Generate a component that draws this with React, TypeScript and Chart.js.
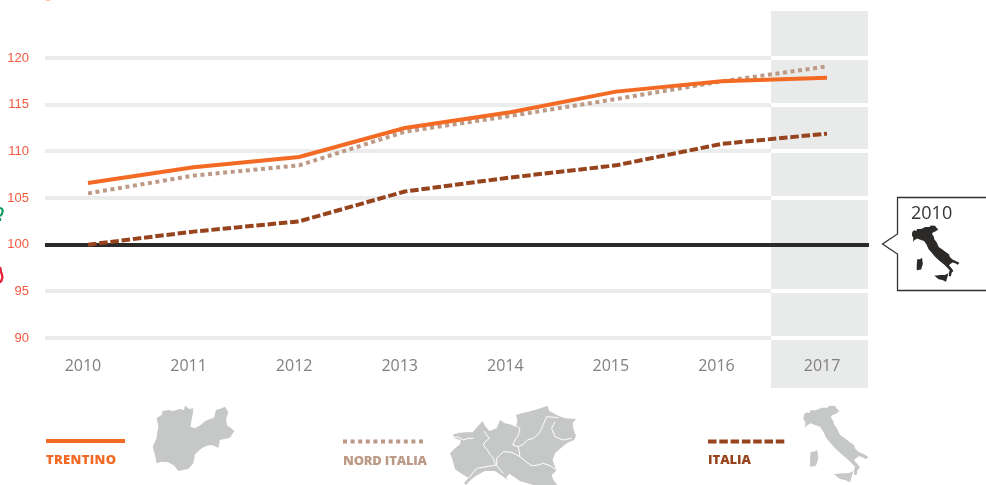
import React, { useEffect, useRef } from "react";
import { Chart, registerables } from "chart.js";

Chart.register(...registerables);

const years = [2010, 2011, 2012, 2013, 2014, 2015, 2016, 2017];
const trentino = [106.6, 108.3, 109.4, 112.5, 114.2, 116.4, 117.5, 117.9];
const nordItalia = [105.5, 107.4, 108.5, 112.1, 113.8, 115.6, 117.5, 119.1];
const italia = [100, 101.4, 102.5, 105.7, 107.2, 108.5, 110.8, 111.9];
const yTicks = [90, 95, 100, 105, 110, 115, 120];

const ORANGE = "#f26a24";
const TAUPE = "#bd9a86";
const BROWN = "#97441e";
const DARK = "#2b2a29";
const GRID = "#ebedec";
const BAND = "#e9ebea";
const MAP = "#c6c8c7";

// Decorative map outlines, in zoomed (3x) local units
const shapeTrentino = "50,70 58,64 65,60 68,48 85,45 100,48 118,42 132,45 135,32 148,42 160,40 158,60 154,78 152,95 165,100 185,88 195,78 210,72 222,68 228,45 245,40 255,35 265,52 258,72 262,92 272,98 283,108 270,128 240,135 235,158 215,150 200,152 185,160 165,178 160,205 145,222 115,228 103,212 85,202 65,200 50,205 45,180 38,155 50,130 52,110 55,95";
const shapeNord = "40,118 55,114 75,112 98,112 112,95 128,78 135,92 148,108 170,100 180,75 195,85 210,88 228,95 232,78 228,60 245,55 265,50 295,42 322,32 328,48 355,62 375,70 408,72 398,85 400,100 408,122 402,135 380,145 362,160 345,175 338,195 345,215 348,228 335,240 340,255 352,270 280,270 240,258 208,236 198,248 205,258 190,245 165,228 135,228 108,242 92,255 78,270 72,265 85,248 62,235 45,222 38,195 30,175 45,160 60,148 62,135 42,130";
const bordersNord = [
  "42,128 55,126 70,135 85,130 100,130",
  "132,108 140,120 148,130 135,140 130,150 142,165 150,178 160,190 165,205 170,212",
  "228,92 240,100 235,120 225,135 218,150 235,155 250,148 262,135 280,130 295,118 305,100 310,88 320,65 355,68",
  "345,80 335,100 345,125 370,135 395,130",
  "170,190 190,170 215,172 240,185 258,200 275,212 295,210 310,205 330,212 345,222",
  "235,155 240,185",
  "85,250 100,232 110,220 140,215 170,210 170,190",
  "170,212 180,224 190,235",
];
const shapeItalyMain = "42,58 50,52 58,55 62,46 78,46 95,38 112,38 118,32 135,33 140,40 148,48 138,56 128,60 122,66 130,78 132,88 142,102 150,120 165,130 180,142 192,150 195,160 205,170 222,178 235,185 228,193 220,188 208,183 200,188 192,195 205,210 210,218 203,225 200,240 192,240 192,225 195,215 185,205 172,192 155,178 135,160 118,140 108,128 100,110 90,95 75,90 62,85 50,92 45,100 46,82 40,72";
const shapeSardinia = "62,170 72,170 82,165 85,190 78,212 60,215 60,195";
const shapeSicily = "132,238 155,235 175,235 190,228 180,262 165,255 150,252";

const BAND_START = 2016.468;
const BAND_FLOOR = 84.64;

const bandPlugin = {
  id: "band",
  beforeDatasetsDraw(chart: any) {
    const { ctx, chartArea, scales } = chart;
    const xs = scales.x;
    const ys = scales.y;
    const left = Math.round(xs.getPixelForValue(BAND_START));
    const right = chartArea.right;
    ctx.save();
    ctx.fillStyle = BAND;
    ctx.fillRect(left, chartArea.top, right - left, ys.getPixelForValue(BAND_FLOOR) - chartArea.top);
    yTicks.forEach((v) => {
      const y = Math.round(ys.getPixelForValue(v));
      ctx.fillStyle = v === 100 ? DARK : "#ffffff";
      ctx.fillRect(left, y - 2, right - left + (v === 100 ? 1 : 0), 4);
    });
    ctx.restore();
  },
};

export default function App() {
  const ref = useRef<HTMLCanvasElement>(null);
  useEffect(() => {
    const toPoints = (arr: number[]) => arr.map((y, i) => ({ x: years[i], y }));
    const chart = new Chart(ref.current as HTMLCanvasElement, {
      type: "line",
      data: {
        datasets: [
          { label: "TRENTINO", data: toPoints(trentino), borderColor: ORANGE, borderWidth: 4, pointRadius: 0, tension: 0 },
          { label: "NORD ITALIA", data: toPoints(nordItalia), borderColor: TAUPE, borderWidth: 4, borderDash: [4, 3.6], pointRadius: 0, tension: 0 },
          { label: "ITALIA", data: toPoints(italia), borderColor: BROWN, borderWidth: 4, borderDash: [8.5, 2.8], pointRadius: 0, tension: 0 },
        ],
      },
      options: {
        responsive: false,
        animation: false,
        devicePixelRatio: 1,
        layout: { padding: { top: 11, right: 118, left: 0, bottom: 0 } },
        plugins: { legend: { display: false }, tooltip: { enabled: false } },
        scales: {
          x: {
            type: "linear",
            min: 2009.593,
            max: 2017.388,
            grid: { display: false },
            border: { display: false },
            afterBuildTicks: (s: any) => { s.ticks = years.map((value) => ({ value })); },
            afterFit: (s: any) => { s.height = 145; s.paddingLeft = 0; s.paddingRight = 0; },
            ticks: {
              callback: (v: any) => String(v),
              autoSkip: false,
              maxRotation: 0,
              labelOffset: -5,
              padding: 9,
              z: 1,
              color: "#808080",
              font: { family: "'Open Sans'", size: 16, weight: "400" },
            },
          },
          y: {
            type: "linear",
            min: 89.786,
            max: 125.04,
            border: { display: false },
            afterBuildTicks: (s: any) => { s.ticks = yTicks.map((value) => ({ value })); },
            afterFit: (s: any) => { s.width = 45; s.paddingTop = 0; s.paddingBottom = 0; },
            grid: {
              drawTicks: false,
              lineWidth: 4,
              color: (c: any) => (c.tick && c.tick.value === 100 ? DARK : GRID),
            },
            ticks: {
              padding: 16,
              color: "#f4583f",
              font: { family: "'Liberation Sans'", size: 13 },
            },
          },
        },
      } as any,
      plugins: [bandPlugin],
    });
    return () => chart.destroy();
  }, []);

  const legendFont = { fontFamily: "'Open Sans'", fontWeight: 800, fontSize: 13 };
  return (
    <div style={{ position: "fixed", left: 0, top: 0, width: 986, height: 485, overflow: "hidden", background: "#fff" }}>
      <canvas ref={ref} width={986} height={485} style={{ position: "absolute", left: 0, top: 0, display: "block" }} />
      <svg width={986} height={485} viewBox="0 0 986 485" style={{ position: "absolute", left: 0, top: 0 }}>
        {/* clipped fragments at the page edges */}
        <path d="M0 208 Q3 208 2.5 212 Q2 215 0 216 M0 218 V221" stroke="#0a9a5a" strokeWidth={2.2} fill="none" />
        <path d="M0 267 L1 272 Q3 276 2 279 Q1 282 0 282" stroke="#e3243b" strokeWidth={2.4} fill="none" />
        <rect x={46} y={0} width={4} height={1} fill="#f9c09d" />

        {/* legend */}
        <rect x={46} y={439} width={79} height={4} fill={ORANGE} />
        <text x={46} y={464} fill={ORANGE} textLength={70} {...legendFont}>TRENTINO</text>
        <line x1={343} x2={423} y1={441.5} y2={441.5} stroke={TAUPE} strokeWidth={4} strokeDasharray="4 3.6" />
        <text x={343} y={465} fill={TAUPE} textLength={84} {...legendFont}>NORD ITALIA</text>
        <line x1={708} x2={785} y1={441.5} y2={441.5} stroke={BROWN} strokeWidth={4} strokeDasharray="8.5 2.8" />
        <text x={708} y={464} fill={BROWN} textLength={43} {...legendFont}>ITALIA</text>

        {/* maps */}
        <g transform="translate(140 395) scale(0.3333)">
          <polygon points={shapeTrentino} fill={MAP} />
        </g>
        <g transform="translate(440 395) scale(0.3333)">
          <polygon points={shapeNord} fill={MAP} />
          {bordersNord.map((p) => (
            <polyline key={p} points={p} fill="none" stroke="#fff" strokeWidth={3} />
          ))}
        </g>
        <g transform="translate(790 395) scale(0.3333)" fill={MAP}>
          <polygon points={shapeItalyMain} />
          <polygon points={shapeSardinia} />
          <polygon points={shapeSicily} />
        </g>

        {/* callout */}
        <path d="M988 197.5 H897.5 V234 L882.5 244 L897.5 254 V290.5 H988" fill="#fff" stroke="#333" strokeWidth={1.3} />
        <text x={911} y={219} fill="#333" fontFamily="'Open Sans'" fontWeight={400} fontSize={18}>2010</text>
        <g transform="translate(902.07 217.67) scale(0.2443)" fill={DARK}>
          <polygon points={shapeItalyMain} />
          <polygon points={shapeSardinia} />
          <polygon points={shapeSicily} />
        </g>
      </svg>
    </div>
  );
}
